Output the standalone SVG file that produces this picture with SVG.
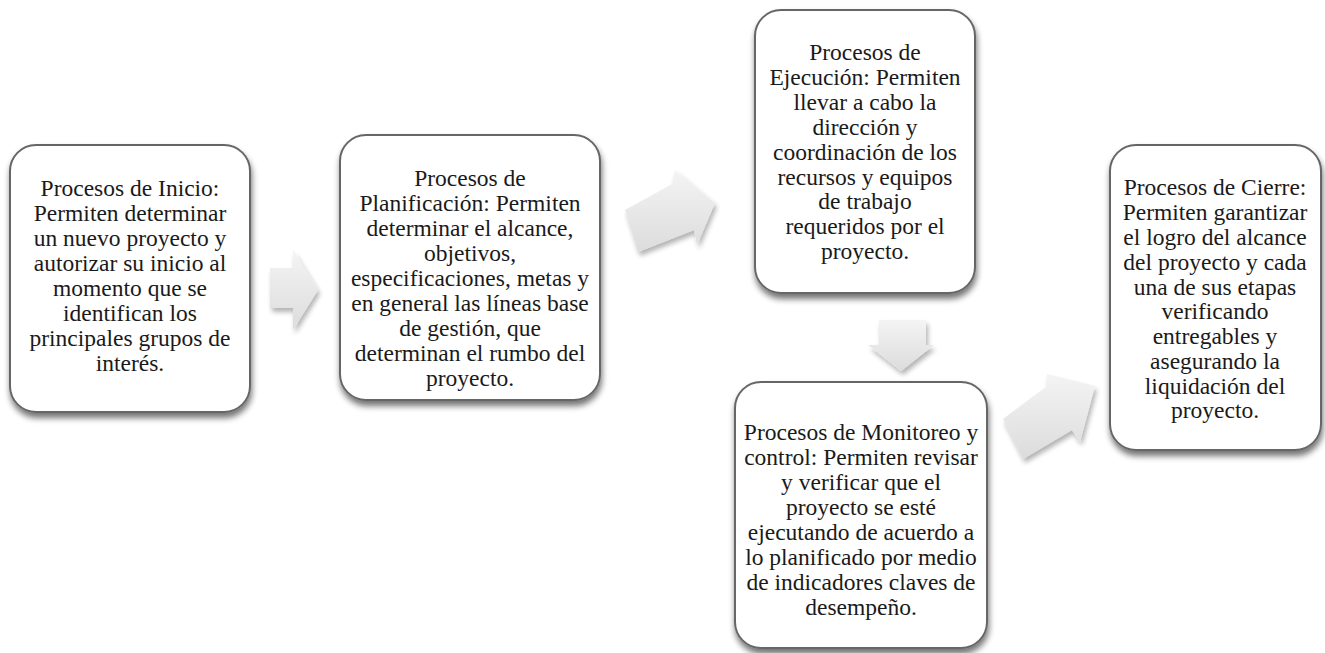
<svg xmlns="http://www.w3.org/2000/svg" width="1325" height="653" viewBox="0 0 1325 653">
<defs>
<filter id="sh" x="-10%" y="-10%" width="125%" height="125%">
<feGaussianBlur in="SourceAlpha" stdDeviation="3"/>
<feOffset dx="1" dy="5" result="b"/>
<feComponentTransfer><feFuncA type="linear" slope="0.55"/></feComponentTransfer>
<feMerge><feMergeNode/><feMergeNode in="SourceGraphic"/></feMerge>
</filter>
<filter id="ash" x="-20%" y="-20%" width="150%" height="150%">
<feGaussianBlur in="SourceAlpha" stdDeviation="2.5"/>
<feOffset dx="2" dy="4" result="b"/>
<feComponentTransfer><feFuncA type="linear" slope="0.3"/></feComponentTransfer>
<feMerge><feMergeNode/><feMergeNode in="SourceGraphic"/></feMerge>
</filter>
<linearGradient id="ag" x1="0" y1="0" x2="0" y2="1">
<stop offset="0" stop-color="#f4f4f4"/>
<stop offset="1" stop-color="#dcdcdc"/>
</linearGradient>
</defs>
<style>
.box{fill:#ffffff;stroke:#666666;stroke-width:2;filter:url(#sh)}
.t{font-family:"Liberation Serif","Times New Roman",serif;font-size:23.5px;fill:#1a1a1a;text-anchor:middle}
.a{fill:url(#ag);filter:url(#ash)}
</style>
<rect width="1325" height="653" fill="#ffffff"/>
<g id="connectors">
<path class="a" d="M270,268 L293,268 L293,250 L318,290 L293,330 L293,308 L270,308 Z"/>
<path class="a" d="M625,210 L672,184 L675,170 L715,203 L697,245 L694,230 L638,252 Z"/>
<path class="a" d="M879,320 L926,320 L926,345 L934,345 L901,371 L868,345 L879,345 Z"/>
<path class="a" d="M1003,419 L1047,386 L1047,374 L1095,386 L1080,442 L1072,430 L1023,459 Z"/>
</g>
<g id="n1">
<rect class="box" x="10" y="145" width="240" height="267" rx="26"/>
<text class="t"><tspan x="130" y="196">Procesos de Inicio:</tspan><tspan x="130" y="221">Permiten determinar</tspan><tspan x="130" y="246">un nuevo proyecto y</tspan><tspan x="130" y="271">autorizar su inicio al</tspan><tspan x="130" y="296">momento que se</tspan><tspan x="130" y="321">identifican los</tspan><tspan x="130" y="346">principales grupos de</tspan><tspan x="130" y="371">interés.</tspan></text>
</g>
<g id="n2">
<rect class="box" x="340" y="135" width="260" height="265" rx="26"/>
<text class="t"><tspan x="470" y="186">Procesos de</tspan><tspan x="470" y="211">Planificación: Permiten</tspan><tspan x="470" y="236">determinar el alcance,</tspan><tspan x="470" y="261">objetivos,</tspan><tspan x="470" y="286">especificaciones, metas y</tspan><tspan x="470" y="311">en general las líneas base</tspan><tspan x="470" y="336">de gestión, que</tspan><tspan x="470" y="361">determinan el rumbo del</tspan><tspan x="470" y="386">proyecto.</tspan></text>
</g>
<g id="n3">
<rect class="box" x="755" y="10" width="220" height="283" rx="26"/>
<text class="t"><tspan x="865" y="60">Procesos de</tspan><tspan x="865" y="85">Ejecución: Permiten</tspan><tspan x="865" y="110">llevar a cabo la</tspan><tspan x="865" y="135">dirección y</tspan><tspan x="865" y="160">coordinación de los</tspan><tspan x="865" y="185">recursos y equipos</tspan><tspan x="865" y="209">de trabajo</tspan><tspan x="865" y="234">requeridos por el</tspan><tspan x="865" y="259">proyecto.</tspan></text>
</g>
<g id="n4">
<rect class="box" x="735" y="382" width="252" height="266" rx="26"/>
<text class="t"><tspan x="861" y="440">Procesos de Monitoreo y</tspan><tspan x="861" y="465">control: Permiten revisar</tspan><tspan x="861" y="490">y verificar que el</tspan><tspan x="861" y="515">proyecto se esté</tspan><tspan x="861" y="540">ejecutando de acuerdo a</tspan><tspan x="861" y="565">lo planificado por medio</tspan><tspan x="861" y="590">de indicadores claves de</tspan><tspan x="861" y="615">desempeño.</tspan></text>
</g>
<g id="n5">
<rect class="box" x="1110" y="145" width="211" height="305" rx="26"/>
<text class="t"><tspan x="1215" y="195">Procesos de Cierre:</tspan><tspan x="1215" y="220">Permiten garantizar</tspan><tspan x="1215" y="245">el logro del alcance</tspan><tspan x="1215" y="270">del proyecto y cada</tspan><tspan x="1215" y="295">una de sus etapas</tspan><tspan x="1215" y="319">verificando</tspan><tspan x="1215" y="344">entregables y</tspan><tspan x="1215" y="369">asegurando la</tspan><tspan x="1215" y="394">liquidación del</tspan><tspan x="1215" y="418">proyecto.</tspan></text>
</g>
</svg>
